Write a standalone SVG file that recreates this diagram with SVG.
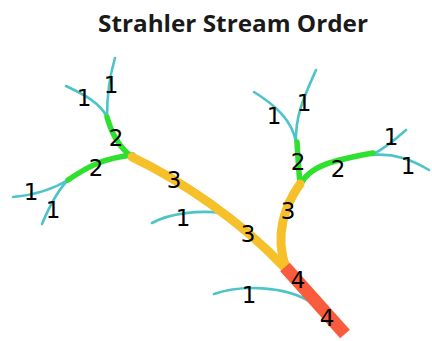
<svg xmlns="http://www.w3.org/2000/svg" width="432" height="341" viewBox="0 0 432 341">
<style>
.c{fill:none;stroke-linecap:round;stroke-linejoin:round}
.o1{stroke:#4cc4c8;stroke-width:2.6}
.o2{stroke:#2fe02f;stroke-width:5.5}
.o3{stroke:#f5c02a;stroke-width:9}
.o4{stroke:#f85c3c;stroke-width:13;stroke-linecap:butt}
.lbl{font-family:"DejaVu Sans",sans-serif;font-size:23px;fill:#000;text-anchor:middle}
.title{font-family:"Open Sans","Liberation Sans",sans-serif;font-weight:bold;font-size:23px;fill:#1a1a1a;text-anchor:middle}
</style>
<rect width="432" height="341" fill="#fff"/>
<text class="title" x="233" y="32" textLength="270" lengthAdjust="spacingAndGlyphs">Strahler Stream Order</text>
<g id="connectors">
<g id="order1">
<path class="c o1" d="M115,58 Q107,85 107,117"/>
<path class="c o1" d="M66,86 C85,95 100,103 107,117"/>
<path class="c o1" d="M254,92 C275,105 292,120 296,142"/>
<path class="c o1" d="M316,70 C305,95 295,115 296,142"/>
<path class="c o1" d="M13,197 C35,195 55,188 68,180"/>
<path class="c o1" d="M42,224 C50,205 58,190 68,180"/>
<path class="c o1" d="M372,155 Q387,147 406,130"/>
<path class="c o1" d="M372,155 C395,153 412,160 429,170"/>
<path class="c o1" d="M152,223 C170,213 200,210 222,213"/>
<path class="c o1" d="M214,294 C240,285 285,285 312,303"/>
</g>
<g id="order2">
<path class="c o2" d="M107,117 C112,135 120,148 132,157"/>
<path class="c o2" d="M68,180 C90,165 105,158 133,155"/>
<path class="c o2" d="M297,142 C298,160 299,172 300,185"/>
<path class="c o2" d="M300,185 C310,165 335,160 373,153"/>
</g>
<g id="order3">
<path class="c o3" d="M132,157 C180,180 240,220 285,268"/>
<path class="c o3" d="M300,184 C285,205 274,235 286,268"/>
</g>
<g id="order4">
<path class="c o4" d="M285,267 L345,334"/>
</g>
</g>
<g id="labels">
<g id="n1a"><text class="lbl" x="111" y="93">1</text></g>
<g id="n1b"><text class="lbl" x="84" y="106">1</text></g>
<g id="n1c"><text class="lbl" x="274" y="124">1</text></g>
<g id="n1d"><text class="lbl" x="304" y="111">1</text></g>
<g id="n1e"><text class="lbl" x="31" y="200">1</text></g>
<g id="n1f"><text class="lbl" x="53" y="218">1</text></g>
<g id="n1g"><text class="lbl" x="391" y="145">1</text></g>
<g id="n1h"><text class="lbl" x="408" y="174">1</text></g>
<g id="n1i"><text class="lbl" x="183" y="226">1</text></g>
<g id="n1j"><text class="lbl" x="249" y="303">1</text></g>
<g id="n2a"><text class="lbl" x="116" y="146">2</text></g>
<g id="n2b"><text class="lbl" x="96" y="176">2</text></g>
<g id="n2c"><text class="lbl" x="298" y="170">2</text></g>
<g id="n2d"><text class="lbl" x="338" y="177">2</text></g>
<g id="n3a"><text class="lbl" x="174" y="188">3</text></g>
<g id="n3b"><text class="lbl" x="248" y="242">3</text></g>
<g id="n3c"><text class="lbl" x="288" y="219">3</text></g>
<g id="n4a"><text class="lbl" x="298" y="288">4</text></g>
<g id="n4b"><text class="lbl" x="327" y="326">4</text></g>
</g>
</svg>
